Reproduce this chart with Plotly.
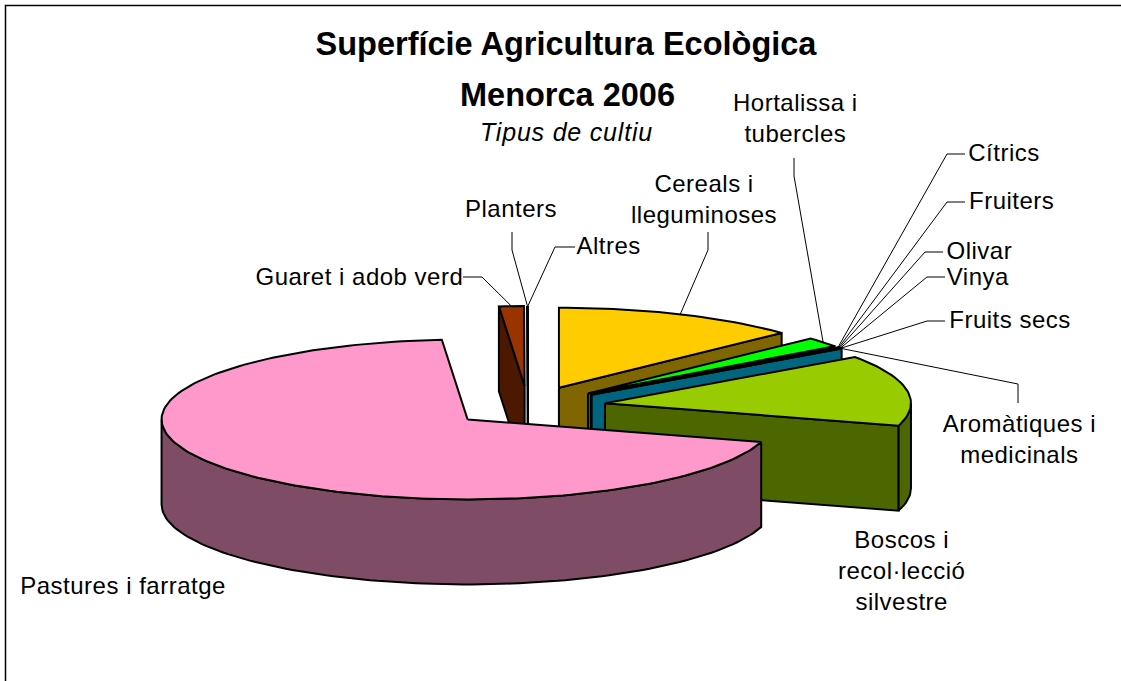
import math
import plotly.graph_objects as go

# ---- data: share of surface (%), clockwise from 12 o'clock
categories = ["Cereals i<br>lleguminoses", "Hortalissa i<br>tubercles", "Cítrics", "Fruiters", "Olivar",
              "Vinya", "Fruits secs", "Aromàtiques i<br>medicinals", "Boscos i<br>recol·lecció<br>silvestre",
              "Pastures i farratge", "Guaret i adob verd", "Planters", "Altres"]
values = [12.97, 1.95, 0.06, 0.04, 0.09, 0.02, 0.03, 0.05, 14.32, 69.10, 1.31, 0.015, 0.015]
colors = ["#FFCC00", "#00FF00", "#FF9900", "#FF0000", "#808000", "#800080", "#CC9900", "#00CCFF",
          "#99CC00", "#FF99CC", "#993300", "#FFFFFF", "#FFFFFF"]

# ---- projection of the pie
CX, CY, RX, RY, DEPTH, EXPLODE = 528.0, 406.5, 306.0, 80.0, 85.0, 0.255
# ---- label layout: centre x, centre y, leader elbow points
label_layout = {
    "Cereals i<br>lleguminoses": (704, 199, [(708, 232), (708, 250)]),
    "Hortalissa i<br>tubercles": (795, 118, [(794, 158), (794, 176)]),
    "Cítrics": (1004, 152, [(965, 154), (947, 154)]),
    "Fruiters": (1011, 200, [(965, 202), (947, 202)]),
    "Olivar": (979, 250, [(943, 252), (925, 252)]),
    "Vinya": (978, 276, [(945, 277), (927, 277)]),
    "Fruits secs": (1010, 319, [(945, 321), (927, 321)]),
    "Aromàtiques i<br>medicinals": (1019, 439, [(1018, 403), (1018, 384)]),
    "Boscos i<br>recol·lecció<br>silvestre": (901, 570, []),
    "Pastures i farratge": (123, 585, []),
    "Guaret i adob verd": (359, 276, [(463, 277), (482, 277)]),
    "Planters": (511, 208, [(512, 232), (512, 250)]),
    "Altres": (608, 245, [(575, 247), (555, 247)]),
}
FONT = "Liberation Sans, Arial, sans-serif"


def darken(hex_color):
    r, g, b = (int(hex_color[i:i + 2], 16) for i in (1, 3, 5))
    return f"rgb({r // 2},{g // 2},{b // 2})"


total = sum(values)
slices = []
angle = 0.0
for name, val, col in zip(categories, values, colors):
    a0 = angle
    a1 = angle + val / total * 360.0
    angle = a1
    mid = math.radians((a0 + a1) / 2)
    ax = CX + EXPLODE * RX * math.sin(mid)
    ay = CY - EXPLODE * RY * math.cos(mid)
    slices.append(dict(name=name, a0=a0, a1=a1, ax=ax, ay=ay, col=col, mid=mid))


def rim(s, deg, down=0.0):
    t = math.radians(deg)
    return s["ax"] + RX * math.sin(t), s["ay"] - RY * math.cos(t) + down


def arc(s, d0, d1, down=0.0):
    n = max(2, int(abs(d1 - d0) / 1.5) + 2)
    return [rim(s, d0 + (d1 - d0) * i / (n - 1), down) for i in range(n)]


fig = go.Figure()


def poly(points, fill, name):
    xs = [p[0] for p in points] + [points[0][0]]
    ys = [p[1] for p in points] + [points[0][1]]
    fig.add_trace(go.Scatter(x=xs, y=ys, mode="lines", fill="toself", fillcolor=fill, name=name.replace("<br>", " "),
                             line=dict(color="black", width=2), hoverinfo="name", showlegend=False))


def draw_slice(s):
    side = darken(s["col"])
    apex = (s["ax"], s["ay"])
    apex_low = (s["ax"], s["ay"] + DEPTH)
    a0, a1 = s["a0"], s["a1"]
    # start wall faces the viewer on the left half, end wall on the right half
    if math.sin(math.radians(a0)) < 0:
        poly([apex, rim(s, a0), rim(s, a0, DEPTH), apex_low], side, s["name"])
    if math.sin(math.radians(a1)) > 0:
        poly([apex, rim(s, a1), rim(s, a1, DEPTH), apex_low], side, s["name"])
    # outer wall: front half of the rim only
    lo, hi = max(a0, 90.0), min(a1, 270.0)
    if hi > lo:
        poly(arc(s, lo, hi) + arc(s, hi, lo, DEPTH), side, s["name"])
    poly([apex] + arc(s, a0, a1), s["col"], s["name"])


# painter's order, back to front
by_name = {s["name"]: s for s in slices}
order = categories[10:13] + categories[:9] + [categories[9]]
for nm in order:
    draw_slice(by_name[nm])

annotations = []
for s in slices:
    x, y, elbows = label_layout[s["name"]]
    if elbows:
        anchor = rim(s, math.degrees(s["mid"]))
        pts = elbows + [anchor]
        fig.add_trace(go.Scatter(x=[p[0] for p in pts], y=[p[1] for p in pts], mode="lines",
                                 line=dict(color="black", width=1), hoverinfo="skip", showlegend=False))
    annotations.append(dict(x=x, y=y, xref="x", yref="y", text=s["name"], showarrow=False, xanchor="center",
                            yanchor="middle", align="center", font=dict(family=FONT, size=24, color="black")))

annotations.append(dict(x=567.5, y=95, xref="x", yref="y", text="<b>Menorca 2006</b>", showarrow=False,
                        font=dict(family=FONT, size=32.5, color="black")))
annotations.append(dict(x=566.5, y=132, xref="x", yref="y", text="<i>Tipus de cultiu</i>", showarrow=False,
                        font=dict(family=FONT, size=25, color="black")))

fig.update_layout(
    width=1121, height=681, margin=dict(l=0, r=0, t=0, b=0), autosize=False,
    paper_bgcolor="white", plot_bgcolor="white", showlegend=False,
    title=dict(text="<b>Superfície Agricultura Ecològica</b>", x=566 / 1121, xanchor="center",
               y=1 - 44 / 681, yanchor="middle", font=dict(family=FONT, size=32.5, color="black")),
    xaxis=dict(range=[0, 1121], visible=False, fixedrange=True),
    yaxis=dict(range=[681, 0], visible=False, fixedrange=True),
    annotations=annotations,
    shapes=[dict(type="path", xref="x", yref="y", path="M 5.5 681 L 5.5 5.5 L 1121 5.5",
                 line=dict(color="black", width=1.5), layer="below")],
)
# the reference's labels are set slightly wider than the installed font's default tracking
post = """
document.body.style.margin='0';document.body.style.overflow='hidden';
document.querySelectorAll('.annotation-text').forEach(function(t){
  t.style.letterSpacing = t.textContent.indexOf('Tipus') === 0 ? '0.8px' :
                          t.textContent.indexOf('Menorca') === 0 ? '0' : '0.5px';
});
"""
fig.write_html("out.html", post_script=post, config={"displayModeBar": False})
